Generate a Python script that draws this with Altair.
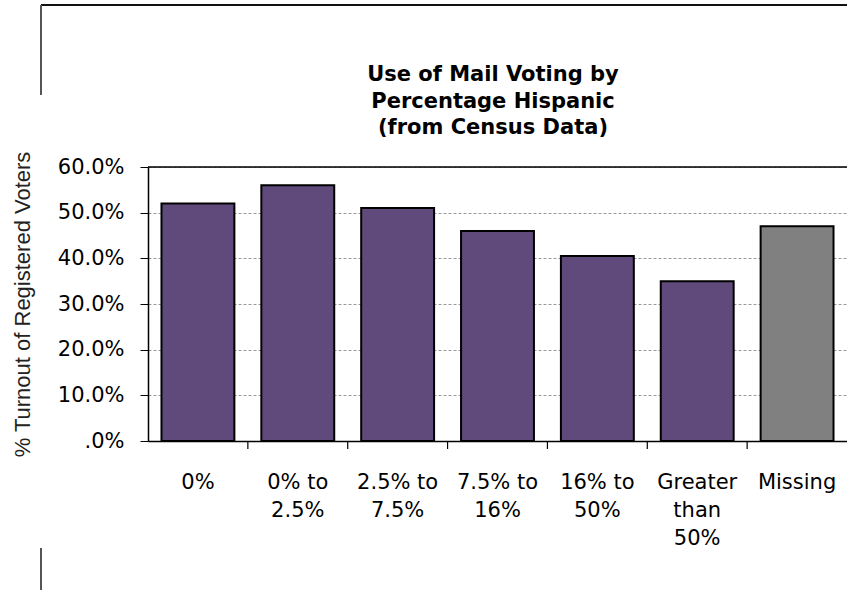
import altair as alt
import pandas as pd

# Share of Hispanic residents (census bands) and mail-voting turnout
categories = ["0%", "0% to|2.5%", "2.5% to|7.5%", "7.5% to|16%",
              "16% to|50%", "Greater|than|50%", "Missing"]
turnout = [0.52, 0.56, 0.51, 0.46, 0.405, 0.35, 0.47]
group = ["known", "known", "known", "known", "known", "known", "missing"]

title_lines = ["Use of Mail Voting by", "Percentage Hispanic", "(from Census Data)"]
y_title = "% Turnout of Registered Voters"
y_ticks = [0.0, 0.1, 0.2, 0.3, 0.4, 0.5, 0.6]

df = pd.DataFrame({"band": categories, "turnout": turnout, "group": group})

W, H = 699, 274
FONT = "DejaVu Sans"

x_scale = alt.Scale(domain=categories, paddingInner=0.27, paddingOuter=0.135)
y_scale = alt.Scale(domain=[0, 0.6], nice=False)

bars = alt.Chart(df).mark_bar(stroke="black", strokeWidth=2).encode(
    x=alt.X("band:N", scale=x_scale, sort=categories,
            axis=alt.Axis(title=None, labelAngle=0, ticks=False,
                          domainColor="black", domainWidth=1.5,
                          labelFont=FONT, labelFontSize=21, labelColor="black",
                          labelPadding=30, labelLineHeight=28,
                          labelExpr="split(datum.label, '|')")),
    y=alt.Y("turnout:Q", scale=y_scale,
            axis=alt.Axis(values=y_ticks,
                          labelExpr="datum.value == 0 ? '.0%' : format(datum.value, '.1%')",
                          labelFont=FONT, labelFontSize=21, labelColor="black",
                          labelPadding=16, tickSize=8, tickColor="black",
                          domainColor="black", domainWidth=1.5,
                          gridColor="#9a9a9a", gridDash=[3, 2], gridWidth=1,
                          title=y_title, titleFont="Liberation Sans",
                          titleFontSize=22, titleFontWeight="normal",
                          titleColor="#222", titleAngle=-90,
                          titleX=-126, titleY=H / 2, titleAlign="center",
                          titleBaseline="middle")),
    color=alt.Color("group:N", legend=None,
                    scale=alt.Scale(domain=["known", "missing"],
                                    range=["#604a7b", "#808080"])),
)

# Tick marks on the boundaries between category bands
tick_df = pd.DataFrame({"edge": categories[1:]})
band_ticks = alt.Chart(tick_df).mark_rule(color="black", strokeWidth=1.2).encode(
    x=alt.X("edge:N", sort=categories, bandPosition=0, axis=None,
            scale=alt.Scale(domain=categories, paddingInner=0, paddingOuter=0)),
    y=alt.value(H),
    y2=alt.value(H + 8),
)

one = pd.DataFrame({"k": [0]})

# Solid top line of the plot at 60%
top_line = alt.Chart(one).mark_rule(color="black", strokeWidth=1.5).encode(
    y=alt.datum(0.6, scale=y_scale), x=alt.value(0), x2=alt.value(W)
)

# Three-line chart heading
heading = alt.Chart(one).mark_text(
    text=title_lines, font=FONT, fontSize=21, fontWeight="bold", color="black",
    align="center", baseline="middle", lineHeight=26.5,
).encode(x=alt.value(345), y=alt.value(-92))

# Surrounding figure frame
frame_top = alt.Chart(one).mark_rule(color="#111", strokeWidth=2).encode(
    x=alt.value(-107), x2=alt.value(W), y=alt.value(-162)
)
frame_left_a = alt.Chart(one).mark_rule(color="#555", strokeWidth=2).encode(
    x=alt.value(-107), y=alt.value(-162), y2=alt.value(-72)
)
frame_left_b = alt.Chart(one).mark_rule(color="#555", strokeWidth=2).encode(
    x=alt.value(-107), y=alt.value(381), y2=alt.value(423)
)

chart = alt.layer(bars, band_ticks, top_line, heading,
                  frame_top, frame_left_a, frame_left_b).resolve_scale(
    x="independent"
).properties(
    width=W, height=H,
    autosize=alt.AutoSizeParams(type="none"),
    padding={"left": 148, "top": 167, "right": 0, "bottom": 149},
).configure_view(stroke=None).configure(background="white")

chart.save("out.html", embed_options={"renderer": "svg", "actions": False})
